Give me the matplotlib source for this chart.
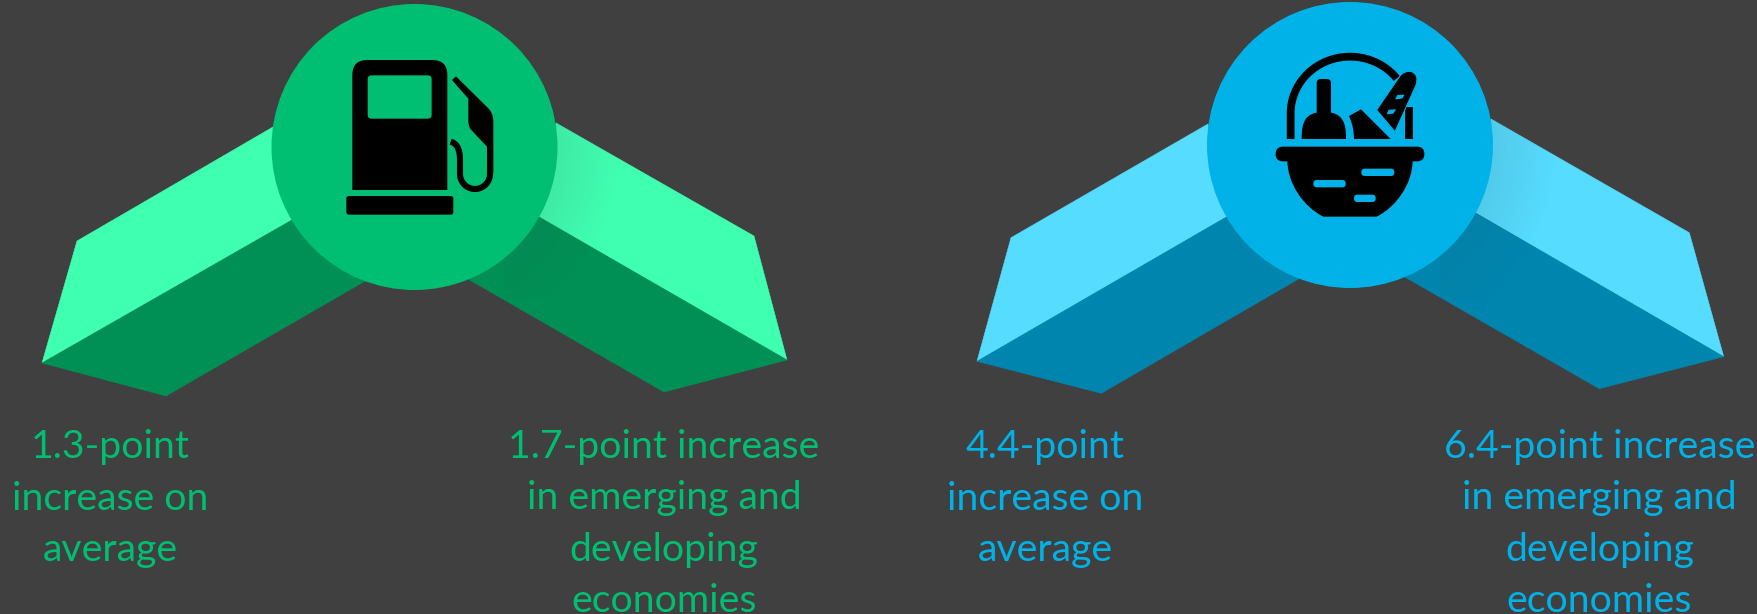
import numpy as np
import matplotlib
matplotlib.use("Agg")
import matplotlib.pyplot as plt
from matplotlib.colors import to_rgb
from matplotlib.path import Path
from matplotlib.patches import Circle, PathPatch, Polygon, FancyBboxPatch

# Point increases shown for fuel (green) and food (blue)
average_increase = [1.3, 4.4]
emerging_increase = [1.7, 6.4]
average_tail = ["increase on", "average"]
emerging_tail = ["in emerging and", "developing", "economies"]

light_colors = ["#3FFFB1", "#55DCFF"]
dark_colors = ["#008F55", "#0085AE"]
main_colors = ["#00BF72", "#00B2E8"]
BACKGROUND = "#404040"

W, H = 1758, 614
fig = plt.figure(figsize=(W / 100, H / 100), dpi=100, facecolor=BACKGROUND)
ax = fig.add_axes([0, 0, 1, 1])
ax.set_xlim(0, W)
ax.set_ylim(H, 0)
ax.axis("off")


def rounded_box(x0, y0, x1, y1, r, color, z):
    ax.add_patch(FancyBboxPatch((x0 + r, y0 + r), x1 - x0 - 2 * r, y1 - y0 - 2 * r,
                                boxstyle=f"round,pad={r},rounding_size={r}",
                                fc=color, ec="none", zorder=z))


# Ribbon outlines in pixels: outer tip, outer corner, edge at the badge, fold at the badge
ribbon_outlines = [
    {"left_light": [(42, 363), (77, 241), (273, 127), (292, 220)],
     "left_dark": [(42, 363), (166, 396), (367, 280), (292, 220)],
     "right_light": [(787, 360), (754, 236), (556, 123), (539, 217)],
     "right_dark": [(787, 360), (664, 392), (468, 279), (539, 217)]},
    {"left_light": [(977, 361.3), (1011, 237.7), (1208, 124), (1227, 216.7)],
     "left_dark": [(977, 361.3), (1101.3, 393.3), (1302, 277), (1227, 216.7)],
     "right_light": [(1723.7, 356.7), (1689.3, 232.7), (1491, 119), (1475.7, 213)],
     "right_dark": [(1723.7, 356.7), (1599.3, 388.7), (1403, 276), (1475.7, 213)]},
]


def shade(cx, cy, clip, strength):
    """Soft grey falloff on a ribbon face next to the badge."""
    xs, ys = np.meshgrid(np.arange(cx + 90, cx + 270), np.arange(90, 300))
    dist = np.hypot(xs + 0.5 - cx, ys + 0.5 - cy)
    rgba = np.zeros(xs.shape + (4,))
    rgba[..., :3] = to_rgb(BACKGROUND)
    rgba[..., 3] = np.clip(1 - (dist - 143) / 65, 0, 1) * strength
    im = ax.imshow(rgba, extent=(cx + 90, cx + 270, 300, 90), aspect="auto",
                   interpolation="bilinear", zorder=2.5)
    im.set_clip_path(clip)


def chevron(outline, cx, cy, light, dark):
    """Two folded ribbons sloping away from the badge."""
    patches = {}
    for key, pts in outline.items():
        col = light if key.endswith("light") else dark
        patches[key] = Polygon(pts, closed=True, fc=col, ec=col, lw=0.4, zorder=2)
        ax.add_patch(patches[key])
    shade(cx, cy, patches["right_light"], 0.11)
    shade(cx, cy, patches["right_dark"], 0.05)


def filled(vertices, codes, color, z=5, edge="none", lw=0):
    ax.add_patch(PathPatch(Path(vertices, codes), fc=color, ec=edge, lw=lw, zorder=z))


M, L, C3, C4, Z = Path.MOVETO, Path.LINETO, Path.CURVE3, Path.CURVE4, Path.CLOSEPOLY


def pump_icon(bg):
    def t(x, y):
        return (260 + x / 3, y / 3)

    # pump body with rounded shoulders
    v = [(277, 570), (277, 225), (277, 180), (322, 180), (517, 180), (562, 180), (562, 225),
         (562, 570), (277, 570)]
    c = [M, L, C3, C3, L, C3, C3, L, Z]
    filled([t(*p) for p in v], c, "black")
    x0, y0 = t(323, 226)
    x1, y1 = t(515, 356)
    rounded_box(x0, y0, x1, y1, 4, bg, 6)
    x0, y0 = t(259, 588)
    x1, y1 = t(580, 644)
    rounded_box(x0, y0, x1, y1, 2.5, "black", 5)

    # nozzle
    v = [(576, 240), (588, 229), (685, 325), (700, 340), (700, 365), (700, 520), (681, 520),
         (681, 440), (632, 388), (625, 378), (625, 365), (625, 296), (576, 240)]
    c = [M, L, L, C3, C3, L, L, L, L, C3, C3, L, Z]
    filled([t(*p) for p in v], c, "black")

    # hose
    theta = np.linspace(np.pi, 0, 40)
    hx = list(645 + 45 * np.cos(theta))
    hy = list(522 + 45 * np.sin(theta))
    curve_t = np.linspace(0, 1, 12)
    sx = (1 - curve_t) ** 2 * 572 + 2 * curve_t * (1 - curve_t) * 600 + curve_t ** 2 * 600
    sy = (1 - curve_t) ** 2 * 425 + 2 * curve_t * (1 - curve_t) * 432 + curve_t ** 2 * 480
    xs = list(sx) + hx + [690, 690]
    ys = list(sy) + hy + [510, 440]
    pts = [t(a, b) for a, b in zip(xs, ys)]
    ax.plot(*zip(*pts), color="black", lw=4.4, solid_capstyle="butt", zorder=5)


def basket_icon(bg):
    def t(x, y):
        return (1200 + x / 3, 20 + y / 3)

    # handle
    theta = np.linspace(np.pi, np.radians(322), 60)
    hx = [272] + list(450 + 178 * np.cos(theta))
    hy = [357] + list(280 + 170 * np.sin(theta))
    ax.plot(*zip(*[t(a, b) for a, b in zip(hx, hy)]), color="black", lw=5.6,
            solid_capstyle="butt", zorder=5)
    ax.plot(*zip(*[t(a, b) for a, b in [(628, 262), (628, 357)]]), color="black", lw=5.6,
            solid_capstyle="butt", zorder=5)

    # rim and bowl
    x0, y0 = t(227, 380)
    x1, y1 = t(673, 424)
    rounded_box(x0, y0, x1, y1, 7.2, "black", 5)
    v = [(262, 420), (262, 490), (310, 560), (370, 590), (530, 590), (590, 560), (638, 490),
         (638, 420), (262, 420)]
    c = [M, C4, C4, C4, L, C4, C4, C4, Z]
    filled([t(*p) for p in v], c, "black")
    for a, b, d, e in [(340, 480, 437, 502), (484, 446, 583, 468), (462, 524, 527, 546)]:
        x0, y0 = t(a, b)
        x1, y1 = t(d, e)
        rounded_box(x0, y0, x1, y1, 3.4, bg, 6)

    # bottle
    v = [(350, 190), (350, 177), (362, 177), (381, 177), (393, 177), (393, 190), (393, 278),
         (438, 285), (438, 330), (438, 357), (305, 357), (305, 330), (305, 285), (350, 278),
         (350, 190)]
    c = [M, C3, C3, L, C3, C3, L, C4, C4, C4, L, C4, C4, C4, Z]
    filled([t(*p) for p in v], c, "black")

    # cheese wedge
    v = [(447, 288), (483, 268), (572, 357), (462, 357), (462, 320), (447, 288)]
    c = [M, L, L, L, C3, C3]
    filled([t(*p) for p in v], c, "black")

    # baguette and its slashes
    v = [(530, 270), (597, 172), (612, 150), (635, 155), (658, 165), (648, 195), (585, 335),
         (530, 270)]
    c = [M, L, C3, C3, C3, C3, L, Z]
    filled([t(*p) for p in v], c, "black", z=5.5, edge=bg, lw=0.7)
    for v in ([(585, 238), (592, 225), (614, 224), (606, 236), (585, 238)],
              [(560, 283), (566, 269), (588, 268), (580, 281), (560, 283)]):
        filled([t(*p) for p in v], [M, L, L, L, Z], bg, 6)


LINE_GAP = 51.5
FIRST_BASELINE = 458
FONT = {"family": "Lato", "size": 28.3}


def label(cx, lines, color):
    for i, line in enumerate(lines):
        ax.text(cx, FIRST_BASELINE + i * LINE_GAP, line, color=color, ha="center",
                va="baseline", clip_on=True, **FONT)


offsets = [0, 935.5]
badge_y = [147, 145]
for i, dx in enumerate(offsets):
    chevron(ribbon_outlines[i], 414.5 + dx, badge_y[i], light_colors[i], dark_colors[i])
    ax.add_patch(Circle((414.5 + dx, badge_y[i]), 143, fc=main_colors[i], ec="none", zorder=4))
    label(110 + dx, [f"{average_increase[i]}-point"] + average_tail, main_colors[i])
    label(664 + dx, [f"{emerging_increase[i]}-point increase"] + emerging_tail, main_colors[i])

pump_icon(main_colors[0])
basket_icon(main_colors[1])

ax.set_xlim(0, W)
ax.set_ylim(H, 0)
fig.savefig("out.png", dpi=100, facecolor=BACKGROUND)
